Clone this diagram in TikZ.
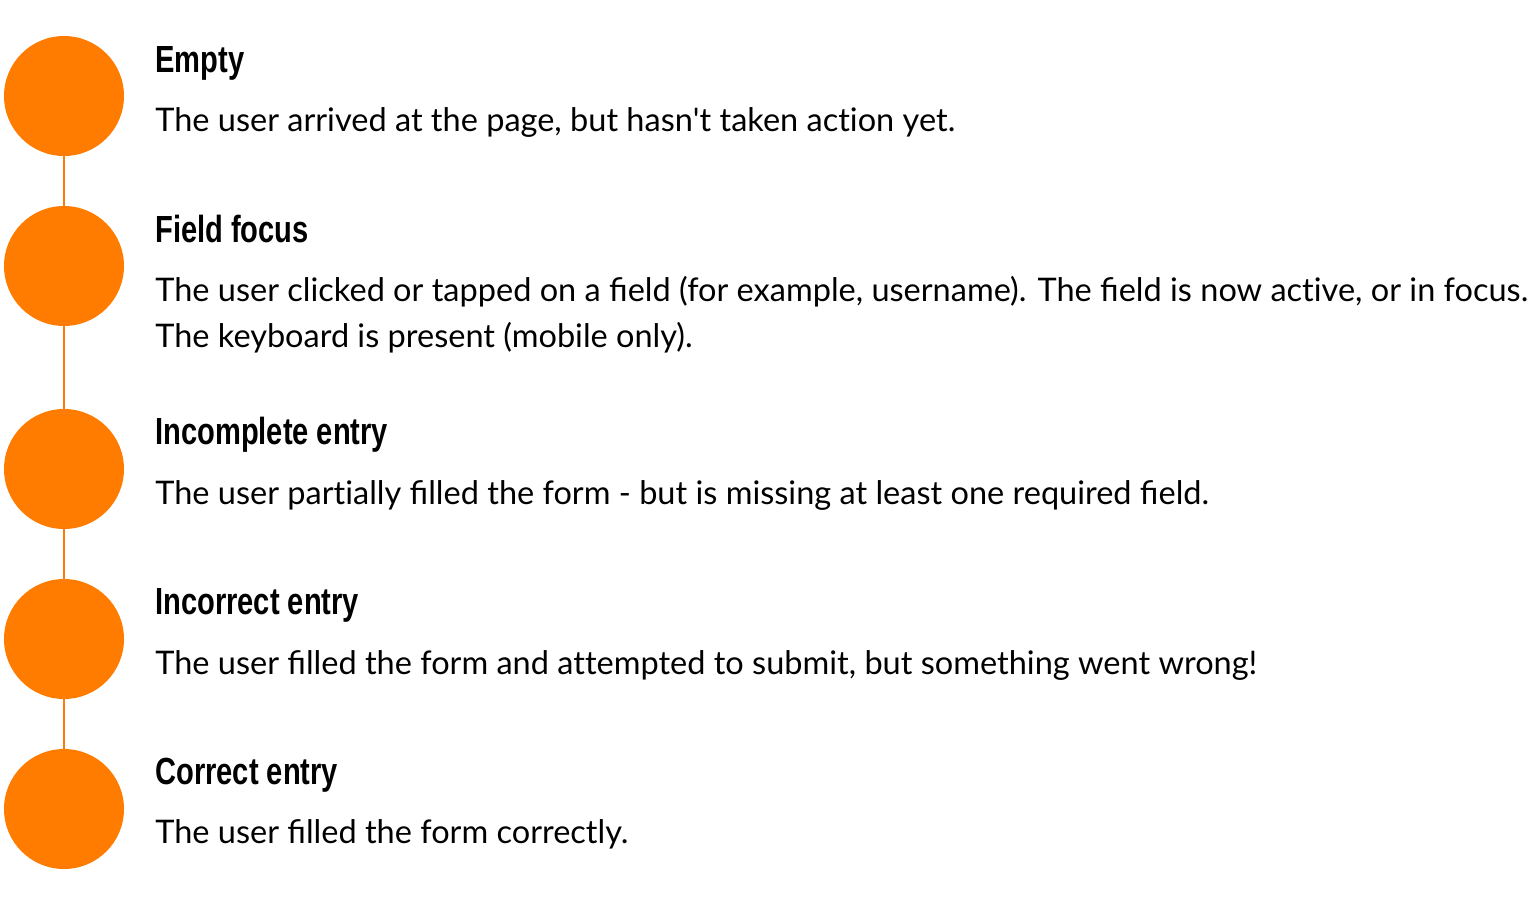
\documentclass[tikz,border=0pt]{standalone}
\usepackage{fontspec}
\setmainfont{Lato}
\newfontfamily\headfont[FakeStretch=0.77]{Liberation Sans}
\usepackage{tikz}
\definecolor{dotorange}{HTML}{FF7C00}
\newcommand{\nolig}{\kern0pt} % keep t and i apart

\begin{document}
\begin{tikzpicture}[
            x = 0.02cm, y = -0.02cm, % one unit is one pixel
            dot/.style = {circle, fill = dotorange, minimum size = 120*0.02cm, inner sep = 0pt},
            head/.style = {anchor = base west, inner sep = 0pt, font = \headfont\bfseries\fontsize{21.5}{26}\selectfont},
            desc/.style = {anchor = base west, inner sep = 0pt, align = left, font = \fontsize{18.5}{26.1}\selectfont},
            link/.style = {draw = dotorange, line width = 1.1pt}
        ]
    \useasboundingbox (0, 0) rectangle (1536, 900);

    % Define the circles
    \node[dot] (c1) at (64, 96) {};
    \node[dot] (c2) at (64, 266) {};
    \node[dot] (c3) at (64, 469) {};
    \node[dot] (c4) at (64, 639) {};
    \node[dot] (c5) at (64, 809) {};

    % Titles and descriptions (base of d2 is its last line)
    \node[head] (t1) at (155, 72) {Empty};
    \node[desc] (d1) at (155, 131) {The user arrived at the page, but hasn\textquotesingle t taken act\nolig ion yet.};
    \node[head] (t2) at (155, 242) {Field focus};
    \node[desc] (d2) at (155, 347) {The user clicked or tapped on a field (for example, username). The field is now act\nolig ive, or in focus.\\The keyboard is present (mobile only).};
    \node[head] (t3) at (155, 444) {Incomplete entry};
    \node[desc] (d3) at (155, 504) {The user part\nolig ially filled the form - but is missing at least one required field.};
    \node[head] (t4) at (155, 614) {Incorrect entry};
    \node[desc] (d4) at (155, 674) {The user filled the form and at\nolig t\nolig empted to submit, but something went wrong!};
    \node[head] (t5) at (155, 784) {Correct entry};
    \node[desc] (d5) at (155, 843) {The user filled the form correctly.};

    % Draw links between circles
    \path[link] (c1) -- (c2);
    \path[link] (c2) -- (c3);
    \path[link] (c3) -- (c4);
    \path[link] (c4) -- (c5);
\end{tikzpicture}
\end{document}
